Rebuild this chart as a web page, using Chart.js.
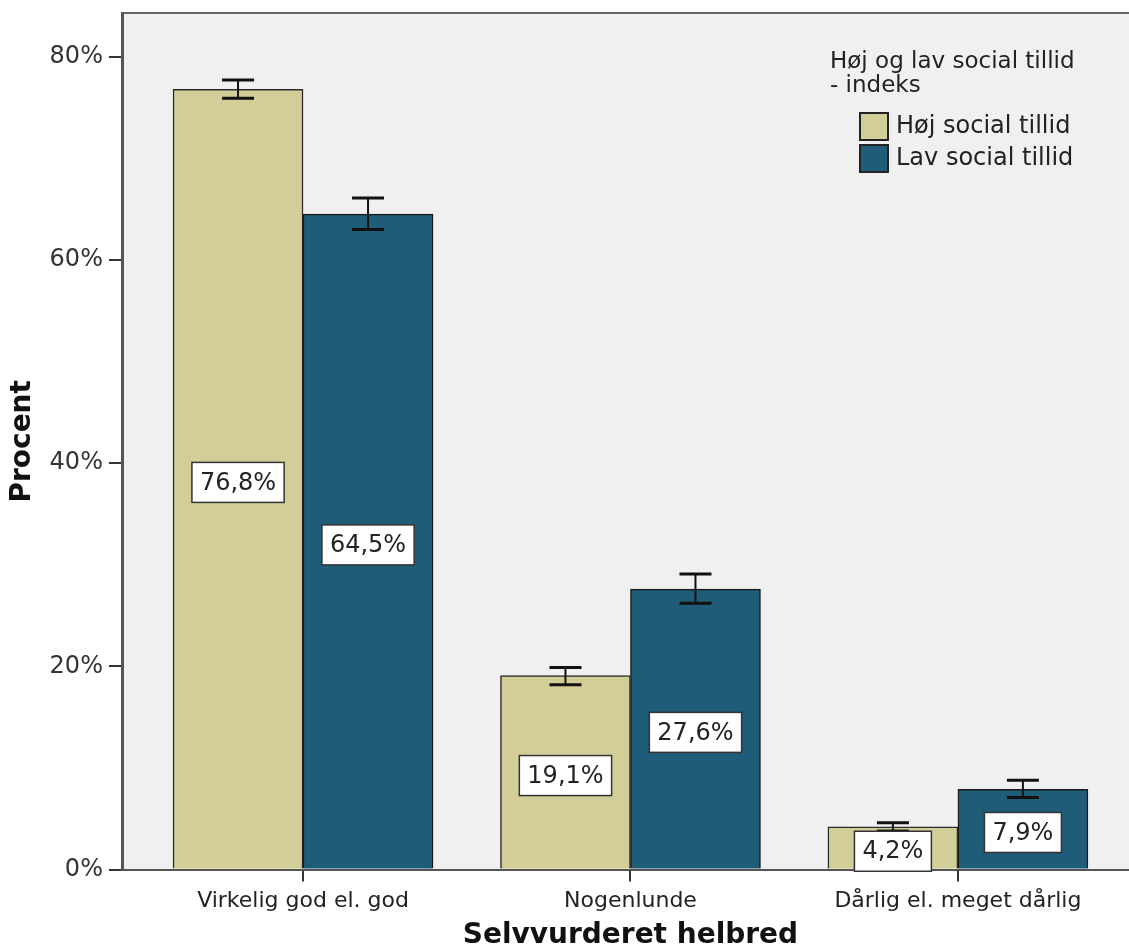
<!DOCTYPE html>
<html>
<head>
<meta charset="utf-8">
<script src="https://cdn.jsdelivr.net/npm/chart.js@4.4.1/dist/chart.umd.min.js"></script>
<style>
  html, body { margin: 0; padding: 0; background: #fff; overflow: hidden; }
  #wrap { width: 1129px; height: 952px; overflow: hidden; }
</style>
</head>
<body>
<div id="wrap"><canvas id="healthChart" width="1150" height="953"></canvas></div>
<script>
const categories = ['Virkelig god el. god', 'Nogenlunde', 'Dårlig el. meget dårlig'];
const seriesNames = ['Høj social tillid', 'Lav social tillid'];
const hojValues = [76.8, 19.1, 4.2];
const lavValues = [64.5, 27.6, 7.9];
const hojErrLow = [75.9, 18.2, 3.8];
const hojErrHigh = [77.7, 19.9, 4.6];
const lavErrLow = [63.0, 26.2, 7.1];
const lavErrHigh = [66.1, 29.1, 8.8];
const yTicks = [0, 20, 40, 60, 80];
const legendTitle = ['Høj og lav social tillid', '- indeks'];

const FONT = 'DejaVu Sans';

// grey plot area + top frame line
const plotBackground = {
  id: 'plotBackground',
  beforeDraw(chart) {
    const { ctx, chartArea: a } = chart;
    ctx.save();
    ctx.fillStyle = '#f0f0f0';
    ctx.fillRect(a.left, a.top, a.right - a.left, a.bottom - a.top);
    ctx.strokeStyle = '#666';
    ctx.lineWidth = 2;
    ctx.beginPath();
    ctx.moveTo(a.left, a.top);
    ctx.lineTo(a.right, a.top);
    ctx.stroke();
    ctx.restore();
  }
};

const errorBars = {
  id: 'errorBars',
  afterDatasetsDraw(chart) {
    const { ctx } = chart;
    const y = chart.scales.y;
    ctx.save();
    ctx.strokeStyle = '#111';
    chart.data.datasets.forEach((ds, di) => {
      chart.getDatasetMeta(di).data.forEach((bar, i) => {
        const top = y.getPixelForValue(ds.errHigh[i]);
        const bot = y.getPixelForValue(ds.errLow[i]);
        ctx.lineWidth = 2;
        ctx.beginPath();
        ctx.moveTo(bar.x, top);
        ctx.lineTo(bar.x, bot);
        ctx.stroke();
        ctx.lineWidth = 3;
        ctx.beginPath();
        ctx.moveTo(bar.x - 16, top);
        ctx.lineTo(bar.x + 16, top);
        ctx.moveTo(bar.x - 16, bot);
        ctx.lineTo(bar.x + 16, bot);
        ctx.stroke();
      });
    });
    ctx.restore();
  }
};

const valueLabels = {
  id: 'valueLabels',
  afterDatasetsDraw(chart) {
    const { ctx } = chart;
    const y = chart.scales.y;
    ctx.save();
    ctx.font = `24px "${FONT}"`;
    ctx.textAlign = 'center';
    ctx.textBaseline = 'middle';
    chart.data.datasets.forEach((ds, di) => {
      chart.getDatasetMeta(di).data.forEach((bar, i) => {
        const v = ds.data[i].y;
        const text = v.toFixed(1).replace('.', ',') + '%';
        const cy = y.getPixelForValue(v / 2) + 3;
        const w = ctx.measureText(text).width + 16;
        const h = 40;
        ctx.fillStyle = '#fff';
        ctx.fillRect(bar.x - w / 2, cy - h / 2, w, h);
        ctx.strokeStyle = '#333';
        ctx.lineWidth = 1.5;
        ctx.strokeRect(bar.x - w / 2, cy - h / 2, w, h);
        ctx.fillStyle = '#222';
        ctx.fillText(text, bar.x, cy + 1);
      });
    });
    ctx.restore();
  }
};

const boxLegend = {
  id: 'boxLegend',
  afterDraw(chart) {
    const { ctx } = chart;
    ctx.save();
    ctx.fillStyle = '#222';
    ctx.font = `23px "${FONT}"`;
    ctx.textAlign = 'left';
    ctx.textBaseline = 'middle';
    ctx.fillText(legendTitle[0], 830, 62);
    ctx.fillText(legendTitle[1], 830, 86);
    ctx.font = `24px "${FONT}"`;
    chart.data.datasets.forEach((ds, i) => {
      const top = 113 + i * 32;
      ctx.fillStyle = ds.backgroundColor;
      ctx.fillRect(860, top, 28, 27);
      ctx.strokeStyle = '#222';
      ctx.lineWidth = 2;
      ctx.strokeRect(860, top, 28, 27);
      ctx.fillStyle = '#222';
      ctx.fillText(ds.label, 896, top + 14);
    });
    ctx.restore();
  }
};

const toPoints = vals => vals.map((v, i) => ({ x: i, y: v }));

new Chart(document.getElementById('healthChart'), {
  type: 'bar',
  data: {
    datasets: [
      {
        label: seriesNames[0],
        data: toPoints(hojValues),
        errLow: hojErrLow,
        errHigh: hojErrHigh,
        backgroundColor: '#d3ce98',
        borderColor: '#2a2a2a',
        borderWidth: 1.5,
        barThickness: 130,
      },
      {
        label: seriesNames[1],
        data: toPoints(lavValues),
        errLow: lavErrLow,
        errHigh: lavErrHigh,
        backgroundColor: '#1f5c77',
        borderColor: '#1a1a1a',
        borderWidth: 1.5,
        barThickness: 130,
      },
    ],
  },
  options: {
    responsive: false,
    animation: false,
    layout: { padding: { top: 13, left: 6, right: 12, bottom: 3 } },
    scales: {
      x: {
        type: 'linear',
        min: -0.55,
        max: 2.55,
        offset: false,
        afterBuildTicks(scale) { scale.ticks = categories.map((c, i) => ({ value: i })); },
        ticks: {
          callback: v => categories[v],
          font: { family: FONT, size: 22 },
          color: '#222',
          padding: 6,
          maxRotation: 0,
          autoSkip: false,
        },
        grid: { offset: false, drawOnChartArea: false, tickLength: 12, color: '#333', lineWidth: 2 },
        border: { color: '#555', width: 2 },
        title: {
          display: true,
          text: 'Selvvurderet helbred',
          font: { family: FONT, size: 28, weight: 'bold', lineHeight: 1 },
          color: '#111',
          padding: { top: 2, bottom: 0 },
        },
      },
      y: {
        min: 0,
        max: 84.3,
        afterBuildTicks(scale) { scale.ticks = yTicks.map(v => ({ value: v })); },
        ticks: {
          callback: v => v + '%',
          font: { family: FONT, size: 24, lineHeight: 0.55 },
          color: '#333',
          padding: 6,
        },
        grid: { drawOnChartArea: false, tickLength: 14, color: '#333', lineWidth: 2 },
        border: { color: '#555', width: 3 },
        title: {
          display: true,
          text: 'Procent',
          font: { family: FONT, size: 28, weight: 'bold' },
          color: '#111',
          padding: { top: 0, bottom: 4 },
        },
      },
    },
    plugins: {
      legend: { display: false },
      tooltip: { enabled: false },
    },
  },
  plugins: [plotBackground, errorBars, valueLabels, boxLegend],
});
</script>
</body>
</html>
